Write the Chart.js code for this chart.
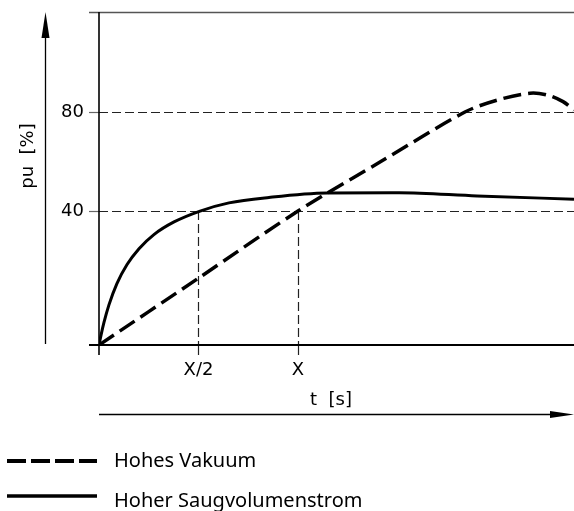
<!DOCTYPE html>
<html lang="de">
<head>
<meta charset="UTF-8">
<title>pu über t</title>
<script src="https://cdn.jsdelivr.net/npm/chart.js@4.4.1/dist/chart.umd.min.js"></script>
<style>
  html, body { margin: 0; padding: 0; background: #fff; }
  #wrap { position: relative; width: 574px; height: 511px; }
</style>
</head>
<body>
<div id="wrap"><canvas id="chart" width="574" height="511"></canvas></div>
<script>
// t in Einheiten von X, pu in %
const vakuumT  = [0, 0.5, 1.0, 1.412, 1.839, 2.0, 2.166, 2.251, 2.332, 2.387];
const vakuumPu = [-14.1, 12.9, 40, 59.8, 80, 84.8, 87.6, 86.9, 84.2, 80.8];

const saugT  = [0, 0.010, 0.025, 0.050, 0.090, 0.141, 0.201, 0.276, 0.377, 0.508, 0.653, 0.854, 1.146, 1.508, 1.9, 2.387];
const saugPu = [-14.1, -10.2, -5.0, 2.1, 10.7, 18.4, 24.8, 30.5, 35.6, 40, 43.3, 45.5, 47.3, 47.4, 46.1, 44.8];

const yTicks = [40, 80];
const xTicks = [0.5, 1];
const xTickLabels = ['X/2', 'X'];
const seriesLabels = ['Hohes Vakuum', 'Hoher Saugvolumenstrom'];
const xTitle = 't  [s]';
const yTitle = 'pu  [%]';
const xRange = [0, 2.387];
const yRange = [-14.1, 120.4];

const toPoints = (xs, ys) => xs.map((x, i) => ({ x: x, y: ys[i] }));

// Achsen, Hilfslinien, Pfeile, Legende
const decor = {
  id: 'decor',
  beforeDatasetsDraw(chart) {
    const ctx = chart.ctx;
    const a = chart.chartArea;
    const xs = chart.scales.x, ys = chart.scales.y;
    const y0 = ys.getPixelForValue(yRange[0]);
    const x0 = xs.getPixelForValue(xRange[0]);
    ctx.save();

    // obere Begrenzung
    ctx.strokeStyle = '#555';
    ctx.lineWidth = 1.3;
    ctx.beginPath();
    ctx.moveTo(a.left - 10, a.top + 0.5);
    ctx.lineTo(a.right, a.top + 0.5);
    ctx.stroke();

    // horizontale Hilfslinien
    yTicks.forEach(v => {
      const py = Math.round(ys.getPixelForValue(v)) + 0.5;
      ctx.setLineDash([]);
      ctx.strokeStyle = '#666';
      ctx.lineWidth = 1.2;
      ctx.beginPath();
      ctx.moveTo(a.left - 10, py);
      ctx.lineTo(x0, py);
      ctx.stroke();
      ctx.setLineDash([9, 4]);
      ctx.strokeStyle = '#222';
      ctx.beginPath();
      ctx.moveTo(x0, py);
      ctx.lineTo(a.right, py);
      ctx.stroke();
    });

    // senkrechte Hilfslinien bei X/2 und X
    xTicks.forEach(v => {
      const px = Math.round(xs.getPixelForValue(v)) + 0.5;
      const top = ys.getPixelForValue(40);
      ctx.setLineDash([9, 4]);
      ctx.strokeStyle = '#222';
      ctx.lineWidth = 1.2;
      ctx.beginPath();
      ctx.moveTo(px, top);
      ctx.lineTo(px, y0);
      ctx.stroke();
      ctx.setLineDash([]);
      ctx.beginPath();
      ctx.moveTo(px, y0);
      ctx.lineTo(px, y0 + 10);
      ctx.stroke();
    });

    // Achsen
    ctx.setLineDash([]);
    ctx.strokeStyle = '#000';
    ctx.lineWidth = 1.6;
    ctx.beginPath();
    ctx.moveTo(x0, a.top);
    ctx.lineTo(x0, y0 + 10);
    ctx.stroke();
    ctx.lineWidth = 2.2;
    ctx.beginPath();
    ctx.moveTo(a.left - 10, y0);
    ctx.lineTo(a.right, y0);
    ctx.stroke();
    ctx.restore();
  },
  afterDraw(chart) {
    const ctx = chart.ctx;
    const a = chart.chartArea;
    const xs = chart.scales.x, ys = chart.scales.y;
    const y0 = ys.getPixelForValue(yRange[0]);
    ctx.save();
    ctx.fillStyle = '#000';
    ctx.strokeStyle = '#000';

    // Tick-Beschriftungen
    ctx.font = '18px "DejaVu Sans"';
    ctx.textAlign = 'right';
    ctx.textBaseline = 'middle';
    yTicks.forEach(v => ctx.fillText(String(v), 84, ys.getPixelForValue(v)));
    ctx.textAlign = 'center';
    xTicks.forEach((v, i) => ctx.fillText(xTickLabels[i], xs.getPixelForValue(v), y0 + 25));

    // x-Titel und Pfeil
    ctx.fillText(xTitle, 331, y0 + 55);
    ctx.lineWidth = 1.3;
    ctx.beginPath();
    ctx.moveTo(a.left, 414.5);
    ctx.lineTo(a.right - 20, 414.5);
    ctx.stroke();
    ctx.beginPath();
    ctx.moveTo(a.right, 414.5);
    ctx.lineTo(a.right - 24, 411);
    ctx.lineTo(a.right - 24, 418);
    ctx.closePath();
    ctx.fill();

    // y-Titel und Pfeil
    ctx.save();
    ctx.translate(28, 156);
    ctx.rotate(-Math.PI / 2);
    ctx.fillText(yTitle, 0, 0);
    ctx.restore();
    ctx.beginPath();
    ctx.moveTo(45.5, 344);
    ctx.lineTo(45.5, 30);
    ctx.stroke();
    ctx.beginPath();
    ctx.moveTo(45.5, a.top);
    ctx.lineTo(41.5, 38);
    ctx.lineTo(49.5, 38);
    ctx.closePath();
    ctx.fill();

    // Legende
    const rows = [461, 496];
    const baselines = [467, 507];
    chart.data.datasets.forEach((ds, i) => {
      ctx.setLineDash(i === 0 ? [19, 5] : []);
      ctx.lineWidth = i === 0 ? 4 : 3.5;
      ctx.beginPath();
      ctx.moveTo(7, rows[i]);
      ctx.lineTo(97, rows[i]);
      ctx.stroke();
      ctx.setLineDash([]);
      ctx.font = '20px "Noto Sans"';
      ctx.textAlign = 'left';
      ctx.textBaseline = 'alphabetic';
      ctx.fillText(ds.label, 114, baselines[i]);
    });
    ctx.restore();
  }
};

new Chart(document.getElementById('chart'), {
  type: 'scatter',
  data: {
    datasets: [
      {
        label: seriesLabels[0],
        data: toPoints(vakuumT, vakuumPu),
        showLine: true,
        borderColor: '#000',
        borderWidth: 3.5,
        borderDash: [18, 7],
        tension: 0.3,
        pointRadius: 0
      },
      {
        label: seriesLabels[1],
        data: toPoints(saugT, saugPu),
        showLine: true,
        borderColor: '#000',
        borderWidth: 3,
        cubicInterpolationMode: 'monotone',
        pointRadius: 0
      }
    ]
  },
  options: {
    responsive: false,
    animation: false,
    devicePixelRatio: 1,
    layout: { padding: { left: 99, right: 0, top: 12, bottom: 166 } },
    scales: {
      x: { type: 'linear', display: false, min: xRange[0], max: xRange[1] },
      y: { type: 'linear', display: false, min: yRange[0], max: yRange[1] }
    },
    plugins: { legend: { display: false }, tooltip: { enabled: false } }
  },
  plugins: [decor]
});
</script>
</body>
</html>
